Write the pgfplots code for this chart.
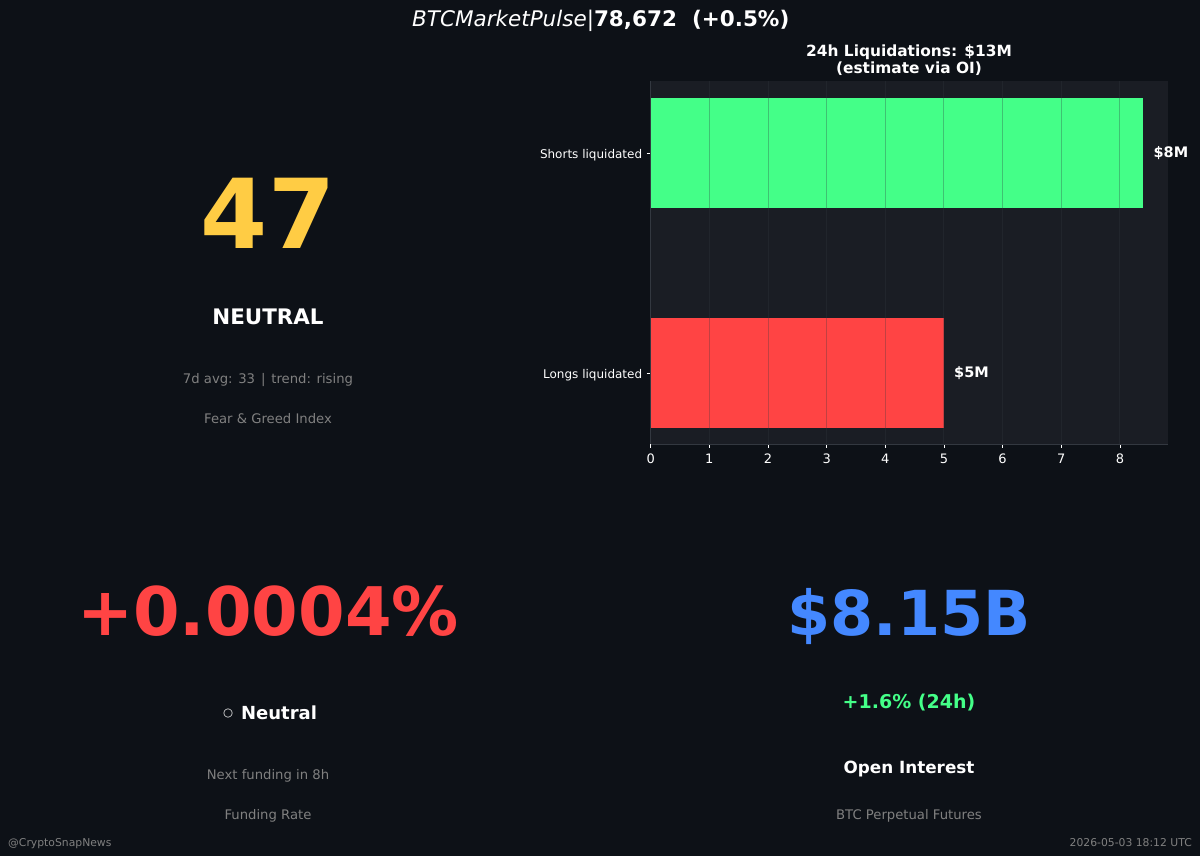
\documentclass[border=0pt]{standalone}
\usepackage{pgfplots}
\pgfplotsset{compat=1.18}
\usepackage{fontspec}
\setmainfont{DejaVu Sans}
\definecolor{bgc}{HTML}{0D1117}
\definecolor{axc}{HTML}{1A1D24}
\definecolor{grn}{HTML}{44FF88}
\definecolor{rdc}{HTML}{FF4444}
\definecolor{ylw}{HTML}{FFCC44}
\definecolor{blu}{HTML}{4488FF}
\definecolor{gry}{HTML}{808080}
\definecolor{spn}{HTML}{333840}
\newcommand{\fs}[1]{\fontsize{#1}{#1}\selectfont}
\newcommand{\T}[5]{\node[anchor=base,inner sep=0pt,text=#4,font=\fs{#3}] at (#1pt,{856pt-#2pt}) {#5};}
\begin{document}
\begin{tikzpicture}[x=1pt,y=1pt]
\useasboundingbox (0,0) rectangle (1200pt,856pt);
\fill[bgc] (0,0) rectangle (1200pt,856pt);
\begin{axis}[
  at={(650.7pt,412pt)},anchor=south west,
  scale only axis,width=517.3pt,height=363pt,
  xmin=0,xmax=8.82,ymin=-0.3227,ymax=1.3273,
  axis background/.style={fill=axc},
  axis on top=true,
  xbar,
  bar shift=0pt,
  bar width=110pt,
  xtick={0,1,2,3,4,5,6,7,8},
  ytick={0,1},
  yticklabels={Longs liquidated,Shorts liquidated},
  xmajorgrids=true,
  grid style={color=spn,opacity=0.3,line width=1pt},
  axis x line*=bottom,axis y line*=left,
  x axis line style={-,draw=spn,line width=0.8pt},
  y axis line style={-,draw=spn,line width=0.8pt},
  tick style={draw=white,line width=0.8pt},
  major tick length=4pt,
  tick align=outside,
  xticklabel style={font=\fs{13},text=white,yshift=-2pt},
  yticklabel style={font=\fs{12},text=white,yshift=-2pt,xshift=-1pt},
  /pgf/number format/assume math mode=true,
  nodes near coords style={font=\bfseries\fs{14.5},text=white,anchor=west,inner sep=0pt,xshift=10pt},
]
\addplot[draw=none,fill=rdc,nodes near coords={\$5M}] coordinates {(5,0)};
\addplot[draw=none,fill=grn,nodes near coords={\$8M}] coordinates {(8.4,1)};
\end{axis}
\node[anchor=base west,inner sep=0pt,text=white,font=\fs{21.5}] at (412pt,{856pt-27pt}) {\textit{BTCMarketPulse}|\textbf{78,672\hspace{0.7em}(+0.5\%)}};
\T{909}{57}{15.4}{white}{\bfseries 24h Liquidations: \$13M}
\T{909}{74}{15.4}{white}{\bfseries (estimate via OI)}
\T{268}{249}{96.5}{ylw}{\bfseries 47}
\T{268}{325}{21.4}{white}{\bfseries NEUTRAL}
\T{268}{384}{13.2}{gry}{7d avg: 33\hspace{0.45em}|\hspace{0.45em}trend: rising}
\T{268}{424}{13.2}{gry}{Fear \& Greed Index}
\T{268}{636}{67}{rdc}{\bfseries +0.0004\%}
\T{270}{720}{18}{white}{\bfseries \raisebox{3.6pt}{\fs{11.5}○}\hspace{8pt}Neutral}
\T{268}{780}{13.2}{gry}{Next funding in 8h}
\T{268}{820}{13.2}{gry}{Funding Rate}
\T{909}{636}{62}{blu}{\bfseries \$8.15B}
\T{909}{709}{19}{grn}{\bfseries +1.6\% (24h)}
\T{909}{774}{16.8}{white}{\bfseries Open Interest}
\T{909}{820}{13.2}{gry}{BTC Perpetual Futures}
\node[anchor=base west,inner sep=0pt,text=gry,font=\fs{10.8}] at (8pt,{856pt-847pt}) {@CryptoSnapNews};
\node[anchor=base east,inner sep=0pt,text=gry,font=\fs{10.8}] at (1192pt,{856pt-847pt}) {2026-05-03 18:12 UTC};
\end{tikzpicture}
\end{document}
